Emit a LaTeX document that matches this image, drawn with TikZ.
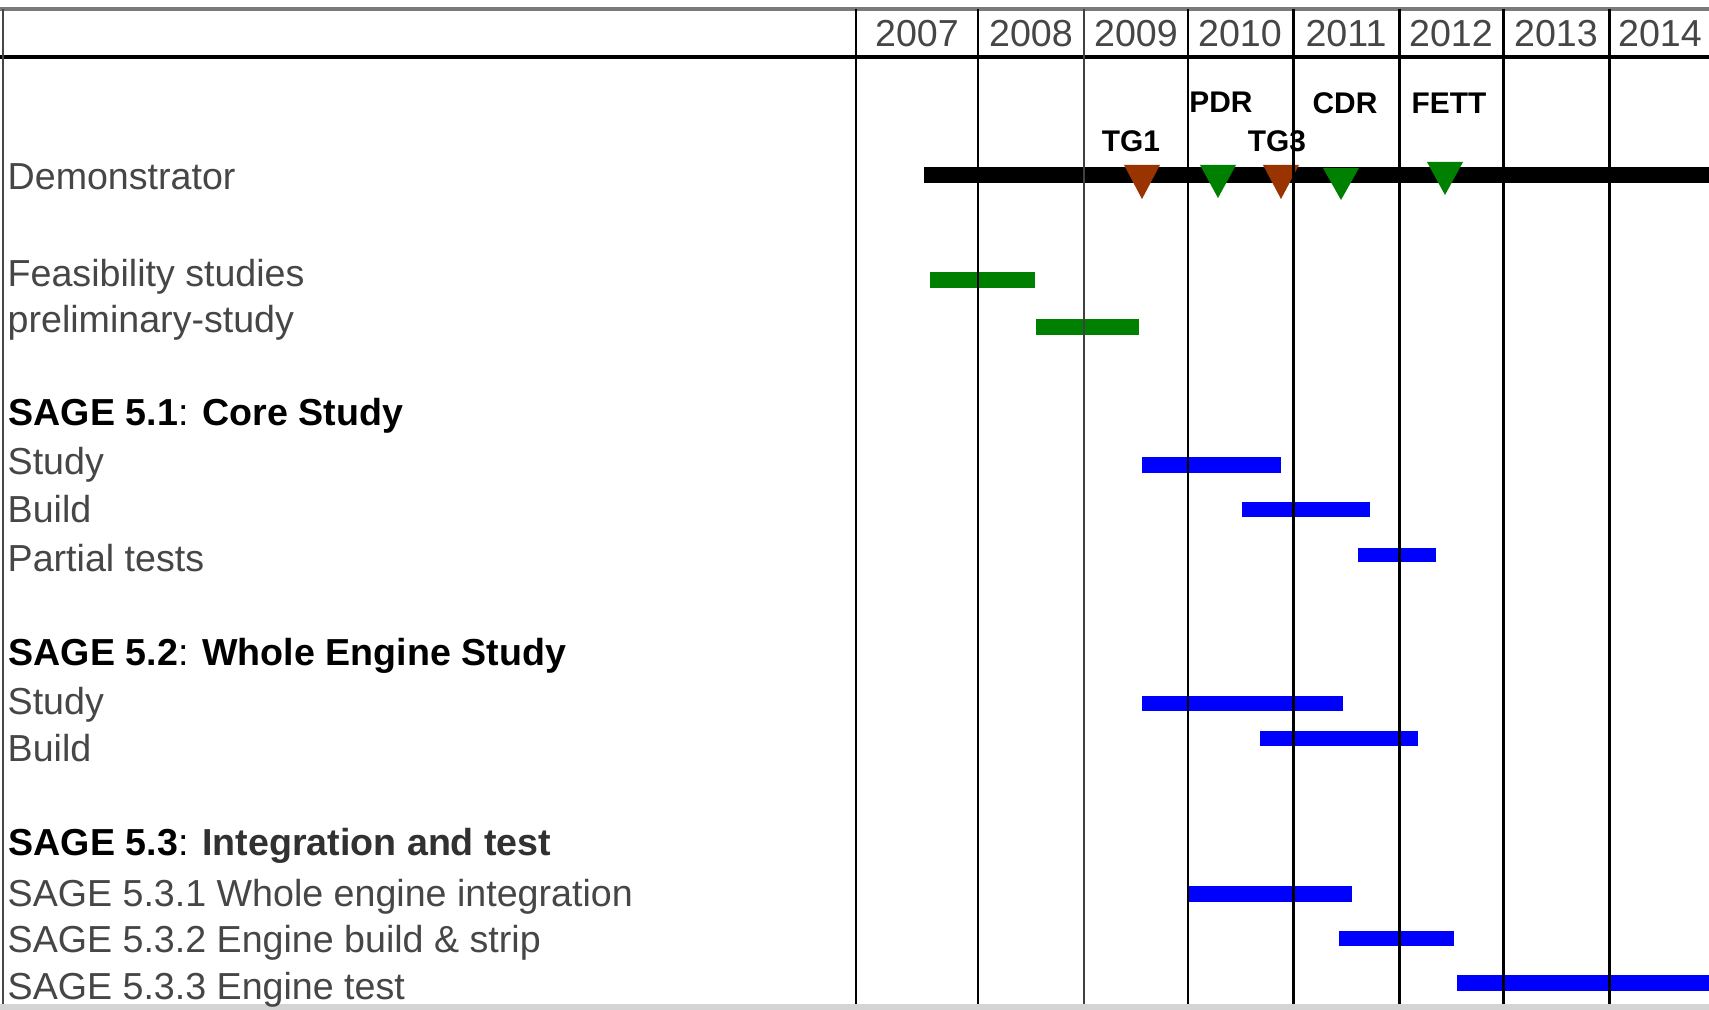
\documentclass[tikz,border=0pt]{standalone}
\usepackage{fontspec}
\setmainfont{Liberation Sans}
\definecolor{txtgray}{HTML}{464646}
\definecolor{gantgreen}{HTML}{008000}
\definecolor{gantblue}{HTML}{0000FF}
\definecolor{msbrown}{HTML}{993300}
\definecolor{bordergray}{HTML}{7A7A7A}
\definecolor{bandgray}{HTML}{D4D4D4}
\begin{document}
\begin{tikzpicture}[x=0.1mm,y=-0.1mm,
  lbl/.style={anchor=base west,inner sep=0pt,text=txtgray,font=\fontsize{10.7}{12}\selectfont},
  hdr/.style={anchor=base west,inner sep=0pt,text=black,font=\fontsize{10.7}{12}\selectfont},
  yr/.style={anchor=base,inner sep=0pt,text=txtgray,font=\fontsize{10.7}{12}\selectfont},
  ms/.style={anchor=base,inner sep=0pt,text=black,font=\fontsize{8.5}{10}\selectfont\bfseries},
  gbar/.style={fill=gantgreen},
  bbar/.style={fill=gantblue},
  gridline/.style={line width=0.85pt,draw=black},
]
\useasboundingbox (0,0) rectangle (1709,1010);
\fill[white] (0,0) rectangle (1709,1010);
\fill[bandgray] (0,1004) rectangle (1709,1010);

% bars
\fill[black] (924,167) rectangle (1709,183);
\fill[gbar] (930,272) rectangle (1035,288);
\fill[gbar] (1036,319) rectangle (1139,335);
\fill[bbar] (1142,457) rectangle (1281,473);
\fill[bbar] (1242,502) rectangle (1370,517);
\fill[bbar] (1358,548) rectangle (1436,562);
\fill[bbar] (1142,696) rectangle (1343,711);
\fill[bbar] (1260,731) rectangle (1418,746);
\fill[bbar] (1188,886) rectangle (1352,902);
\fill[bbar] (1339,931) rectangle (1454,946);
\fill[bbar] (1457,975) rectangle (1709,991);

% milestones
\fill[msbrown] (1124,165) -- (1160,165) -- (1142,199) -- cycle;
\fill[gantgreen] (1200,165) -- (1236,165) -- (1218,198) -- cycle;
\fill[msbrown] (1263,165) -- (1299,165) -- (1281,199) -- cycle;
\fill[gantgreen] (1323,168) -- (1359,168) -- (1341,200) -- cycle;
\fill[gantgreen] (1427,162) -- (1463,162) -- (1445,195) -- cycle;

\node[ms] (tg1) at (1131,152) {TG1};
\node[ms] (pdr) at (1221,113) {PDR};
\node[ms] (tg3) at (1277,152) {TG3};
\node[ms] (cdr) at (1345,114) {CDR};
\node[ms] (fett) at (1449,114) {FETT};

% years
\node[yr] (y2007) at (917,47) {2007};
\node[yr] (y2008) at (1031,47) {2008};
\node[yr] (y2009) at (1136,47) {2009};
\node[yr] (y2010) at (1240,47) {2010};
\node[yr] (y2011) at (1346,47) {2011};
\node[yr] (y2012) at (1451,47) {2012};
\node[yr] (y2013) at (1556,47) {2013};
\node[yr] (y2014) at (1660,47) {2014};

% row labels
\node[lbl] (demo) at (7,190) {Demonstrator};
\node[lbl] (feas) at (7,287) {Feasibility studies};
\node[lbl] (prel) at (7,333) {preliminary-study};
\node[hdr] (s51) at (8,426) {\textbf{SAGE 5.1}: \textbf{Core Study}};
\node[lbl] (s51a) at (7,475) {Study};
\node[lbl] (s51b) at (7,523) {Build};
\node[lbl] (s51c) at (7,572) {Partial tests};
\node[hdr] (s52) at (8,666) {\textbf{SAGE 5.2}: \textbf{Whole Engine Study}};
\node[lbl] (s52a) at (7,715) {Study};
\node[lbl] (s52b) at (7,762) {Build};
\node[hdr] (s53) at (8,856) {\textbf{SAGE 5.3}: \textbf{\color{txtgray!70!black}Integration and test}};
\node[lbl] (s531) at (7,907) {SAGE 5.3.1 Whole engine integration};
\node[lbl] (s532) at (7,953) {SAGE 5.3.2 Engine build \& strip};
\node[lbl] (s533) at (7,1000) {SAGE 5.3.3 Engine test};

% grid
\draw[line width=1pt,draw=bordergray] (0,9) -- (1709,9);
\draw[line width=1pt,draw=black] (0,57) -- (1709,57);
\draw[line width=0.85pt,draw=txtgray] (3,9) -- (3,1004);
\foreach \gx in {856,978,1188,1293,1399,1503,1609}
  \draw[gridline] (\gx,9) -- (\gx,1004);
\draw[line width=0.85pt,draw=black!75] (1084,9) -- (1084,1004);
\end{tikzpicture}
\end{document}
